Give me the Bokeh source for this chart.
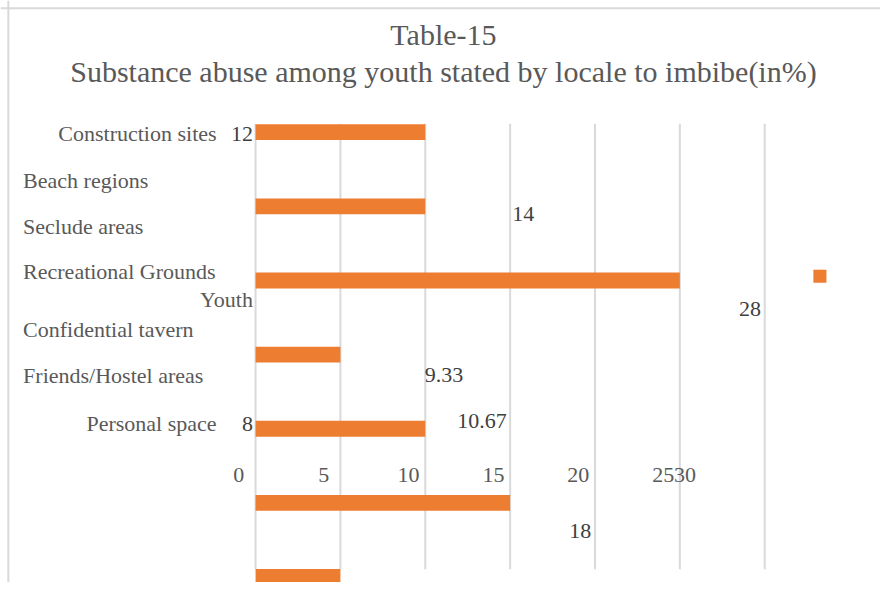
from bokeh.plotting import figure
from bokeh.models import Range1d, Span
from bokeh.core.properties import value
from bokeh.embed import file_html
from bokeh.resources import INLINE

# ---------------- data ----------------
title_lines = ["Table-15", "Substance abuse among youth stated by locale to imbibe(in%)"]
categories = ["Construction sites", "Beach regions", "Seclude areas", "Recreational Grounds",
              "Confidential tavern", "Friends/Hostel areas", "Personal space"]
series_name = "Youth"
value_labels = ["12", "14", "28", "9.33", "10.67", "8", "18"]
bar_lengths = [10, 10, 25, 5, 10, 15, 5]
bar_rows = [0, 1, 2, 3, 4, 5, 6]
ticks = [0, 5, 10, 15, 20, 25, 30]
tick_labels = ["0", "5", "10", "15", "20", "25", "30"]

# ---------------- layout (measurements on the 896x598 reference) ----------------
W, H = 880, 582
REF_W, REF_H = 896, 598
SX, SY = W / REF_W, H / REF_H
PX0, PXU = 259.7, 86.4 / 5.0      # ref x of value 0, ref px per unit
PY0, PYR = 135.3, 76.17           # ref y of row 0 centre, ref px per row


def ux(px):
    return (px - PX0) / PXU


def ry(py):
    return (py - PY0) / PYR


FONT = value("Liberation Serif")
GRAY = "#595959"
DARK = "#404040"
ORANGE = "#ED7D31"
GRID = "#d9d9d9"

p = figure(width=W, height=H,
           x_range=Range1d(ux(0), ux(REF_W)),
           y_range=Range1d(ry(REF_H), ry(0)),
           output_backend="svg", toolbar_location=None,
           x_axis_location=None, y_axis_location=None, min_border=0)
p.grid.visible = False
p.outline_line_color = None
p.background_fill_color = "white"
p.border_fill_color = "white"

# chart border (top and left edges visible)
p.add_layout(Span(location=ux(8), dimension="height", line_color=GRID, line_width=2))
p.add_layout(Span(location=ry(8), dimension="width", line_color=GRID, line_width=2))

# vertical gridlines
p.segment(x0=ticks, x1=ticks, y0=[ry(126.7)] * len(ticks), y1=[ry(584.3)] * len(ticks),
          line_color=GRID, line_width=2)

# bars
p.hbar(y=bar_rows, left=0, right=bar_lengths, height=16.3 / PYR,
       fill_color=ORANGE, line_color=None)

# legend marker
p.scatter(x=[ux(834.3)], y=[ry(283.3)], marker="square", size=13.3 * SX,
          fill_color=ORANGE, line_color=None)

# titles
p.text(x=[ux(451)] * 2, y=[ry(35), ry(73)], text=title_lines,
       text_align="center", text_baseline="alphabetic",
       text_font=FONT, text_font_size=value("30px"), text_color=GRAY)

LS = value("22px")

# category labels (left aligned)
left_idx = [1, 2, 3, 4, 5]
left_base = [185, 232, 278, 338, 385]
p.text(x=[ux(23)] * len(left_idx), y=[ry(b) for b in left_base],
       text=[categories[i] for i in left_idx],
       text_align="left", text_baseline="alphabetic",
       text_font=FONT, text_font_size=LS, text_color=GRAY)

# category labels (right aligned)
p.text(x=[ux(220), ux(220)], y=[ry(137), ry(435)],
       text=[categories[0], categories[6]],
       text_align="right", text_baseline="alphabetic",
       text_font=FONT, text_font_size=LS, text_color=GRAY)

# series name
p.text(x=[ux(257)], y=[ry(307)], text=[series_name],
       text_align="right", text_baseline="alphabetic",
       text_font=FONT, text_font_size=LS, text_color=GRAY)

# data labels right aligned next to axis
p.text(x=[ux(257), ux(257)], y=[ry(137), ry(435)],
       text=[value_labels[0], value_labels[5]],
       text_align="right", text_baseline="alphabetic",
       text_font=FONT, text_font_size=LS, text_color=DARK)

# data labels floating
fl_idx = [1, 2, 3, 4, 6]
fl_x = [521, 752, 432, 465, 579]
fl_b = [219, 317, 385, 432, 545]
p.text(x=[ux(v) for v in fl_x], y=[ry(b) for b in fl_b],
       text=[value_labels[i] for i in fl_idx],
       text_align="left", text_baseline="alphabetic",
       text_font=FONT, text_font_size=LS, text_color=DARK)

# tick labels (shifted left of their gridlines; the last one is misplaced)
tick_pos = ticks[:-1] + [ux(714)]
p.text(x=tick_pos, y=[ry(488)] * len(ticks), text=tick_labels,
       x_offset=-17 * SX, text_align="center", text_baseline="alphabetic",
       text_font=FONT, text_font_size=LS, text_color=GRAY)

open("out.html", "w").write(file_html(p, INLINE))
